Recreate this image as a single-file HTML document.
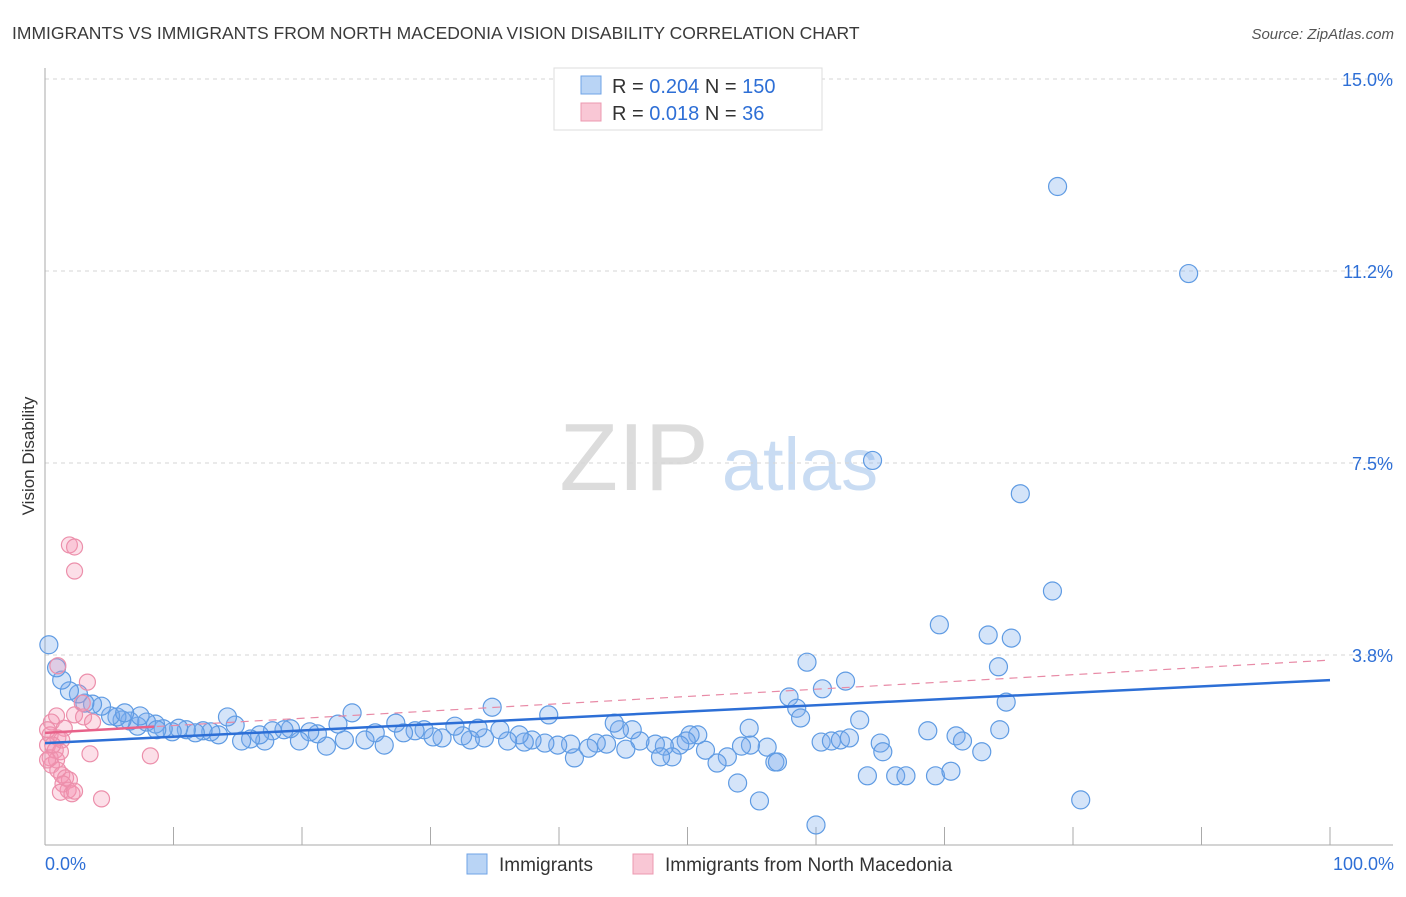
<!DOCTYPE html>
<html><head><meta charset="utf-8"><style>
body{margin:0;background:#fff;font-family:"Liberation Sans",sans-serif}
svg text{font-family:"Liberation Sans",sans-serif}
</style></head><body>
<svg id="chart" width="1406" height="892" viewBox="0 0 1406 892" xmlns="http://www.w3.org/2000/svg">
<text x="12" y="39" font-size="17.5" fill="#3a3a3a">IMMIGRANTS VS IMMIGRANTS FROM NORTH MACEDONIA VISION DISABILITY CORRELATION CHART</text>
<text x="1394" y="39" font-size="15" fill="#555" text-anchor="end" font-style="italic">Source: ZipAtlas.com</text>
<g>
<text x="634" y="490" font-size="96" fill="#dcdcdc" text-anchor="middle" font-family="Liberation Serif, serif">ZIP</text>
<text x="800" y="490" font-size="74" fill="#c9dcf3" text-anchor="middle">atlas</text>
</g>
<g id="grid"></g>
<g id="axes"></g>
<g id="marks"></g>
<text transform="translate(34,456) rotate(-90)" font-size="17" fill="#333" text-anchor="middle">Vision Disability</text>
<g>
<rect x="554" y="68" width="268" height="62" fill="#fff" stroke="#ddd"/>
<rect x="581" y="76" width="20" height="18" fill="#b9d4f5" stroke="#6fa3e6"/>
<rect x="581" y="103" width="20" height="18" fill="#f9c7d5" stroke="#ec98b0"/>
<text x="612" y="93" font-size="20" fill="#333">R = <tspan fill="#2e6fd6">0.204</tspan>   N = <tspan fill="#2e6fd6">150</tspan></text>
<text x="612" y="120" font-size="20" fill="#333">R =  <tspan fill="#2e6fd6">0.018</tspan>   N =   <tspan fill="#2e6fd6">36</tspan></text>
</g>
<g>
<rect x="467" y="854" width="20" height="20" fill="#b9d4f5" stroke="#6fa3e6"/>
<text x="499" y="871" font-size="19" fill="#333">Immigrants</text>
<rect x="633" y="854" width="20" height="20" fill="#f9c7d5" stroke="#ec98b0"/>
<text x="665" y="871" font-size="19" fill="#333">Immigrants from North Macedonia</text>
</g>
<text x="45" y="870" font-size="18" fill="#2e6fd6">0.0%</text>
<text x="1394" y="870" font-size="18" fill="#2e6fd6" text-anchor="end">100.0%</text>
</svg>
<script>
const blueX=[78.8,89.0,64.4,75.9,78.4,69.6,73.4,75.2,74.2,59.3,74.8,60.5,62.3,57.9,58.5,58.8,63.4,68.7,70.9,71.4,74.3,72.9,65.0,65.2,64.0,66.2,67.0,69.3,70.5,80.6,60.0,55.6,53.9,54.8,60.4,61.2,61.9,62.6,56.8,57.0,56.2,54.9,54.2,53.1,52.3,51.4,50.8,50.2,49.9,49.4,48.8,48.2,47.5,46.3,45.7,44.7,44.3,45.2,43.7,42.9,42.3,41.2,40.9,39.9,39.2,38.9,37.9,37.3,36.9,36.0,35.4,34.8,34.2,33.7,33.1,32.5,31.9,30.9,30.2,29.5,28.8,27.9,27.3,26.4,25.7,24.9,23.9,23.3,22.8,21.9,21.2,20.6,19.8,19.1,18.6,17.7,17.1,16.7,16.0,15.3,14.8,14.2,13.5,12.9,12.3,11.7,11.0,10.4,9.9,9.2,8.6,7.9,7.2,6.6,6.0,5.6,5.1,4.4,3.7,3.1,2.6,1.9,1.3,0.9,0.3,8.7,7.4,6.2,47.9];
const blueY=[12.9,11.2,7.55,6.9,5.0,4.34,4.14,4.08,3.52,3.61,2.83,3.09,3.24,2.93,2.71,2.52,2.48,2.27,2.17,2.07,2.29,1.86,2.03,1.86,1.39,1.39,1.39,1.39,1.48,0.92,0.43,0.90,1.25,2.32,2.05,2.07,2.09,2.13,1.66,1.66,1.95,1.99,1.97,1.76,1.64,1.89,2.19,2.19,2.07,1.99,1.76,1.97,2.01,2.07,2.29,2.29,2.42,1.91,2.01,2.03,1.93,1.74,2.01,1.99,2.58,2.03,2.09,2.05,2.19,2.07,2.29,2.73,2.13,2.32,2.09,2.17,2.36,2.13,2.15,2.29,2.27,2.23,2.42,1.99,2.23,2.09,2.62,2.09,2.40,1.97,2.21,2.25,2.07,2.31,2.29,2.27,2.07,2.19,2.11,2.07,2.38,2.54,2.19,2.25,2.27,2.23,2.29,2.32,2.25,2.31,2.40,2.44,2.36,2.46,2.48,2.54,2.56,2.75,2.79,2.81,2.99,3.05,3.26,3.50,3.95,2.29,2.56,2.62,1.76];
const pinkX=[1.9,2.3,2.3,1.0,3.3,2.9,2.3,3.0,0.9,0.5,1.5,3.7,0.4,1.0,1.3,0.2,0.8,1.2,3.5,8.2,0.4,0.9,0.5,1.0,1.3,1.6,1.9,1.4,1.8,1.2,2.1,2.3,4.4,0.2,0.6,0.2];
const pinkY=[5.9,5.86,5.39,3.54,3.22,2.81,2.58,2.54,2.56,2.44,2.32,2.44,2.19,2.13,2.09,1.99,1.89,1.86,1.82,1.78,1.74,1.70,1.60,1.50,1.41,1.35,1.31,1.23,1.11,1.07,1.04,1.09,0.94,2.29,1.99,1.70];
const blueTrend=[2.03,3.26];
const pinkTrend=[2.23,3.65];
const yTicks=[15,11.25,7.5,3.75];
const yTickLabels=["15.0%","11.2%","7.5%","3.8%"];
const xTicks=[0,10,20,30,40,50,60,70,80,90,100];

const NS="http://www.w3.org/2000/svg";
const X=v=>45+v*12.85;
const Y=v=>847-v*51.2;
function mk(tag,attrs,parent){const e=document.createElementNS(NS,tag);for(const k in attrs)e.setAttribute(k,attrs[k]);parent.appendChild(e);return e;}
const grid=document.getElementById('grid'),axes=document.getElementById('axes'),marks=document.getElementById('marks');
yTicks.forEach((t,i)=>{
 const l=mk('line',{x1:45,x2:1393,y1:Y(t),y2:Y(t),stroke:'#d6d6d6','stroke-dasharray':'4 4'},grid);
 
 
 const tx=mk('text',{x:1393,y:Y(t)+7,'font-size':18,fill:'#2e6fd6','text-anchor':'end'},grid);
 tx.textContent=yTickLabels[i];
 
 
});
const ax=mk('line',{x1:45,x2:45,y1:68,y2:845,stroke:'#aaa'},axes);


const bx=mk('line',{x1:45,x2:1393,y1:845,y2:845,stroke:'#aaa'},axes);


xTicks.forEach(t=>{
 const l=mk('line',{x1:X(t),x2:X(t),y1:827,y2:845,stroke:'#aaa'},axes);
 
 
});
blueX.forEach((x,i)=>{
 const c=mk('circle',{cx:X(x),cy:Y(blueY[i]),r:9,fill:'rgba(120,170,235,0.32)',stroke:'#5f9be3','stroke-width':1.2},marks);
 
 
});
pinkX.forEach((x,i)=>{
 const c=mk('circle',{cx:X(x),cy:Y(pinkY[i]),r:8,fill:'rgba(245,150,180,0.3)',stroke:'#ec8fab','stroke-width':1.2},marks);
 
 
});
const pd=mk('line',{x1:X(0),y1:Y(pinkTrend[0]),x2:X(100),y2:Y(pinkTrend[1]),stroke:'#e88aa6','stroke-width':1.2,'stroke-dasharray':'8 6'},marks);


const pe=pinkTrend[0]+(pinkTrend[1]-pinkTrend[0])*0.085;
const ps=mk('line',{x1:X(0),y1:Y(pinkTrend[0]),x2:X(8.5),y2:Y(pe),stroke:'#e8628a','stroke-width':2.5},marks);


const bt=mk('line',{x1:X(0),y1:Y(blueTrend[0]),x2:X(100),y2:Y(blueTrend[1]),stroke:'#2d6fd6','stroke-width':2.5},marks);


</script>
</body></html>
